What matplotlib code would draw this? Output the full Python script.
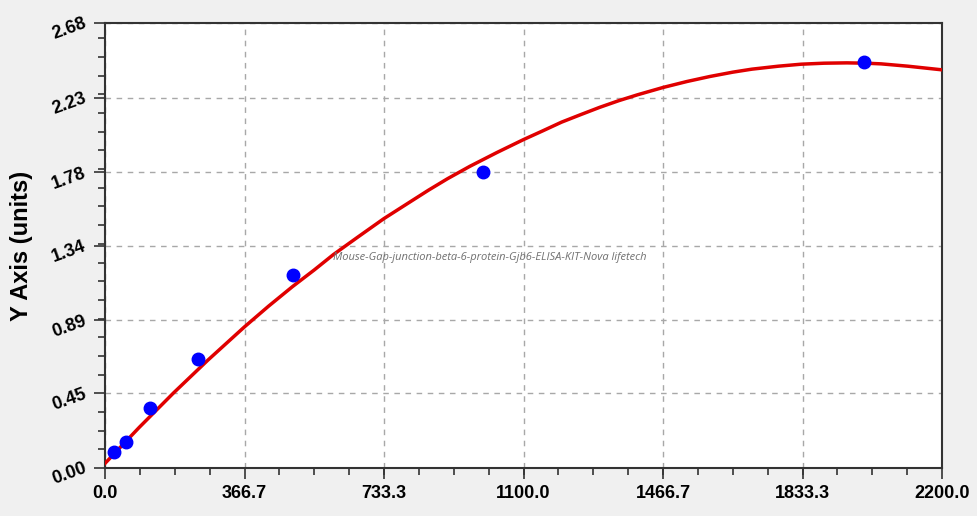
import matplotlib
matplotlib.use("Agg")
import matplotlib.pyplot as plt
from matplotlib.ticker import FixedLocator, AutoMinorLocator

# standard points (concentration, OD)
conc = [23, 55, 118, 244, 493, 994, 1995]
od = [0.098, 0.158, 0.360, 0.657, 1.163, 1.785, 2.444]

# fitted curve
curve_x = [0, 90, 180, 270, 367, 430, 493, 550, 600, 667, 733, 800, 850,
           900, 959, 1030, 1100, 1150, 1200, 1250, 1300, 1350, 1400, 1467,
           1530, 1590, 1650, 1700, 1770, 1830, 1890, 1950, 2000, 2040, 2110,
           2200]
curve_y = [0.028, 0.245, 0.452, 0.649, 0.851, 0.975, 1.093, 1.193, 1.285,
           1.395, 1.502, 1.600, 1.673, 1.742, 1.817, 1.900, 1.978, 2.030,
           2.083, 2.128, 2.172, 2.212, 2.248, 2.292, 2.328, 2.358, 2.384,
           2.402, 2.420, 2.432, 2.438, 2.440, 2.438, 2.434, 2.420, 2.398]

xticks = [0.0, 366.7, 733.3, 1100.0, 1466.7, 1833.3, 2200.0]
yticks = [0.00, 0.45, 0.89, 1.34, 1.78, 2.23, 2.68]

bg = "#f0f0f0"
fig = plt.figure(figsize=(9.78, 5.16), dpi=100, facecolor=bg)
ax = fig.add_axes([0.1074, 0.093, 0.8558, 0.8624])
ax.set_facecolor("white")

ax.plot(curve_x, curve_y, color="#e00000", linewidth=2.5, zorder=3)
ax.plot(conc, od, "o", color="#0000ff", markersize=9, zorder=4)

ax.set_xlim(0, 2200)
ax.set_ylim(0, 2.68)
ax.xaxis.set_major_locator(FixedLocator(xticks))
ax.yaxis.set_major_locator(FixedLocator(yticks))
ax.xaxis.set_minor_locator(AutoMinorLocator(4))
ax.yaxis.set_minor_locator(AutoMinorLocator(4))

ax.set_xticklabels(["%.1f" % v for v in xticks], fontsize=13,
                   fontweight="bold", family="Liberation Sans")
ax.set_yticklabels(["%.2f" % v for v in yticks], fontsize=13,
                   fontweight="bold", family="Liberation Sans",
                   rotation=20, ha="right", va="center", rotation_mode="anchor")

ax.tick_params(which="major", direction="out", length=8, width=1.2,
               color="#333333", pad=4)
ax.tick_params(which="minor", direction="out", length=5, width=1.2,
               color="#333333")
ax.tick_params(axis="y", which="major", pad=6)

ax.grid(True, which="major", color="#a8a8a8", linestyle=(0, (4, 4)),
        linewidth=1)
for s in ax.spines.values():
    s.set_color("#333333")
    s.set_linewidth(1.5)

ax.set_ylabel("Y Axis (units)", fontsize=17, fontweight="bold",
              family="Liberation Sans")
ax.yaxis.set_label_coords(-0.086, 0.5)

ax.text(0.46, 0.473, "Mouse-Gap-junction-beta-6-protein-Gjb6-ELISA-KIT-Nova lifetech",
        transform=ax.transAxes, fontsize=8, style="italic", color="#707070",
        ha="center", va="center", family="Open Sans", zorder=5)

fig.savefig("out.png", dpi=100, facecolor=bg)
